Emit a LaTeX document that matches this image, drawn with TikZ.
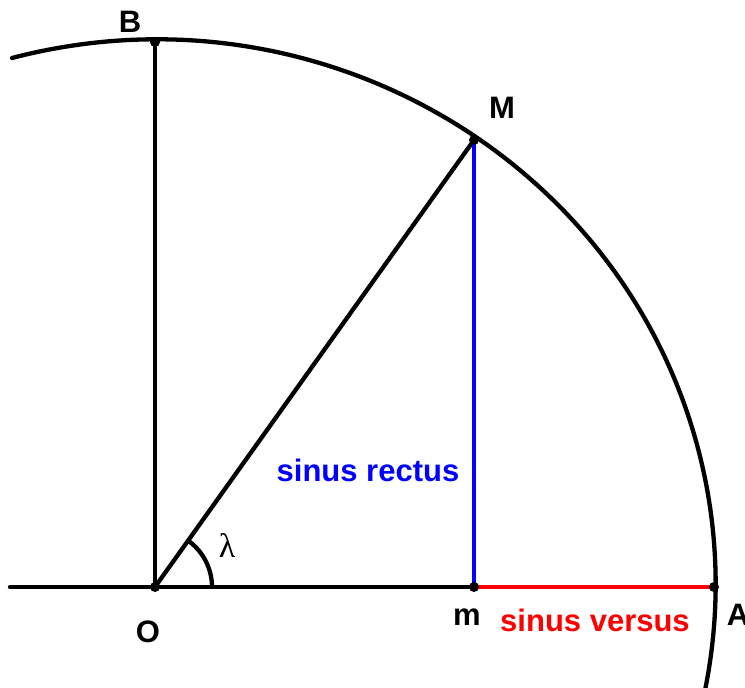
\documentclass[tikz,border=0pt]{standalone}
\usepackage{fontspec}
\setmainfont{Liberation Sans}
\newfontfamily\serifgreek{Liberation Serif}
\usetikzlibrary{arrows.meta,calc}

\begin{document}
\begin{tikzpicture}[x=1pt,y=1pt,>=Stealth,
    line cap=round,line join=round,
    pt/.style={circle,fill,inner sep=0pt,minimum size=10pt},
    lbl/.style={font=\fontsize{31}{36}\selectfont\bfseries}]
    \useasboundingbox (-155,-101) rectangle (590,587);

    % Points of the quarter circle.
    \coordinate (O) at (0,0);
    \coordinate (B) at (0,545);
    \coordinate (A) at (559,0);
    \coordinate (M) at (319,447);
    \coordinate (m) at (319,0);
    \coordinate (west) at (-145,0);

    % The circle, slightly wider than high as in the drawing.
    \draw[line width=4.3pt] (-143,529)
      arc[start angle=105,end angle=-11.3,x radius=559,y radius=545];

    % Radii, sine and versed sine.
    \draw[line width=4.3pt] (west) -- (m);
    \draw[line width=4.3pt] (O) -- (B);
    \draw[line width=4.3pt] (O) -- (M);
    \draw[line width=4.3pt,blue] (M) -- (m);
    \draw[line width=4.3pt,red] (m) -- (A);

    % The angle lambda.
    \draw[line width=4.3pt] (57,0) arc[start angle=0,end angle=54.5,radius=57];
    \node (lam) at (72,41) {\fontsize{34}{38}\selectfont\serifgreek λ};

    \foreach \p in {O,B,A,M,m}
      \node[pt] at (\p) {};

    % Labels.
    \node[lbl] (labB) at (-25,565) {B};
    \node[lbl] (labM) at (347,479) {M};
    \node[lbl] (labO) at (-7,-45) {O};
    \node[lbl] (labm) at (312,-30) {m};
    \node[lbl] (labA) at (583,-28) {A};
    \node[lbl,blue] (rectus) at (213,117) {sinus rectus};
    \node[lbl,red] (versus) at (440,-33) {sinus versus};
  \end{tikzpicture}
\end{document}
